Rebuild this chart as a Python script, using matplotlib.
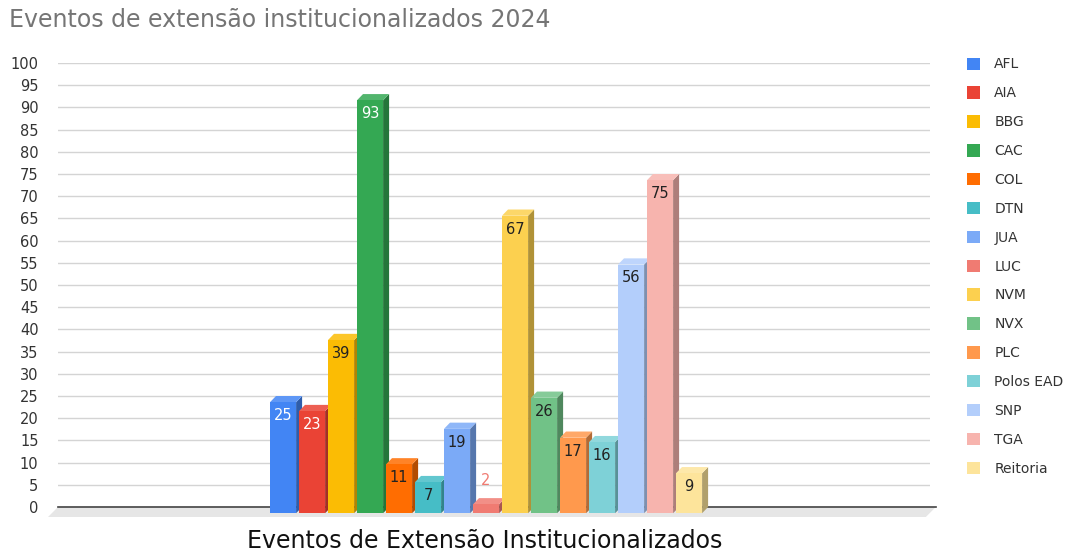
import matplotlib.pyplot as plt
import matplotlib.colors as mcolors
from matplotlib.patches import Polygon, Patch

plt.rcParams['font.family'] = ['DejaVu Sans']

# Dados
campus = ['AFL', 'AIA', 'BBG', 'CAC', 'COL', 'DTN', 'JUA', 'LUC', 'NVM', 'NVX',
          'PLC', 'Polos EAD', 'SNP', 'TGA', 'Reitoria']
eventos = [25, 23, 39, 93, 11, 7, 19, 2, 67, 26, 17, 16, 56, 75, 9]
cores = ['#4285F4', '#EA4335', '#FBBC04', '#34A853', '#FF6D01', '#46BDC6', '#7BAAF7',
         '#F07B72', '#FCD04F', '#71C287', '#FF994D', '#7ED1D7', '#B3CEFB', '#F7B4AE',
         '#FDE49B']
cor_rotulo = ['white', 'white', '#222222', 'white', '#222222', '#222222', '#222222',
              '#F07B72', '#222222', '#222222', '#222222', '#222222', '#222222',
              '#222222', '#222222']


def escurecer(c, f):
    r, g, b = mcolors.to_rgb(c)
    return (r * f, g * f, b * f)


def clarear(c, f):
    r, g, b = mcolors.to_rgb(c)
    return (r + (1 - r) * f, g + (1 - g) * f, b + (1 - b) * f)


fig = plt.figure(figsize=(10.77, 5.53), dpi=100)
ax = fig.add_axes([58 / 1077, 46 / 553, 872 / 1077, 444 / 553])
ax.set_xlim(0, 872 / 29)
ax.set_ylim(0, 100)
ax.set_yticks(range(0, 101, 5))
ax.tick_params(axis='y', length=0, pad=14, labelsize=10.5, labelcolor='#333333')
ax.set_xticks([])
for s in ax.spines.values():
    s.set_visible(False)
ax.grid(axis='y', color='#d4d4d4', linewidth=1)
ax.set_axisbelow(True)

# Chão 3D
x0, x1 = ax.get_xlim()
fundo = 10 / 4.44
desl = 10 / 29
ax.add_patch(Polygon([(x0, 0), (x1 + 0.2, 0), (x1 + 0.2 - desl, -fundo), (x0 - desl, -fundo)],
                     closed=True, facecolor='#e6e6e6', edgecolor='none', clip_on=False, zorder=1))
ax.plot([x0, x1 + 0.2], [0, 0], color='#444444', linewidth=1.2, clip_on=False, zorder=1.5)

# Barras 3D
inicio = (270 - 58) / 29
larg = 0.9
dx = 6 / 29
dy = 1.4
for i, (v, c) in enumerate(zip(eventos, cores)):
    x = inicio + i
    frente = [(x, -dy), (x + larg, -dy), (x + larg, v - dy), (x, v - dy)]
    lado = [(x + larg, -dy), (x + larg + dx, 0), (x + larg + dx, v), (x + larg, v - dy)]
    topo = [(x, v - dy), (x + larg, v - dy), (x + larg + dx, v), (x + dx, v)]
    ax.add_patch(Polygon(lado, closed=True, facecolor=escurecer(c, 0.7),
                         edgecolor='none', clip_on=False, zorder=3))
    ax.add_patch(Polygon(topo, closed=True, facecolor=clarear(c, 0.15),
                         edgecolor='none', clip_on=False, zorder=3))
    ax.add_patch(Polygon(frente, closed=True, facecolor=c,
                         edgecolor='none', clip_on=False, zorder=3))
    if v > 5:
        ax.text(x + larg / 2, v - dy - 3.0, str(v), ha='center', va='center',
                fontsize=10.5, color=cor_rotulo[i], zorder=4)
    else:
        ax.text(x + larg / 2, v + 4.0, str(v), ha='center', va='center',
                fontsize=10.5, color=cor_rotulo[i], zorder=4)

# Títulos
fig.text(9 / 1077, 1 - 27 / 553, 'Eventos de extensão institucionalizados 2024',
         fontsize=17, color='#757575', ha='left', va='baseline')
fig.text(485 / 1077, 1 - 548 / 553, 'Eventos de Extensão Institucionalizados',
         fontsize=17, color='#111111', ha='center', va='baseline')

# Legenda
handles = [Patch(facecolor=c, edgecolor='none') for c in cores]
fig.legend(handles, campus, loc='upper left', bbox_to_anchor=(954 / 1077, 1 - 45 / 553),
           frameon=False, fontsize=10, handlelength=1.0, handleheight=1.0,
           labelspacing=1.07, handletextpad=1.0, labelcolor='#333333')

plt.savefig('out.png', dpi=100)
